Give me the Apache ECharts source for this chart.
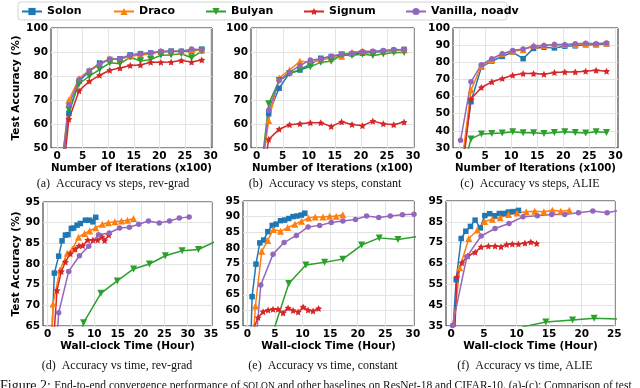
<!DOCTYPE html>
<html>
<head>
<meta charset="utf-8">
<script src="https://cdn.jsdelivr.net/npm/echarts@6/dist/echarts.min.js"></script>
<style>
  html, body { margin: 0; padding: 0; background: #fff; }
  #chart { width: 640px; height: 388px; }
</style>
</head>
<body>
<div id="chart"></div>
<script>
// x positions (x100 iterations) shared by the three step plots
const stepX = [0.3, 2.3, 4.3, 6.3, 8.3, 10.3, 12.3, 14.3, 16.3, 18.3, 20.3, 22.3, 24.3, 26.3, 28.3];

// (a) accuracy vs steps, rev-grad
const aSolon   = [36, 64.5, 77.8, 82, 85.4, 86.9, 87.2, 88.8, 89.3, 89.6, 90, 90.4, 90.3, 90.2, 91.2];
const aDraco   = [30, 70, 79, 82.4, 85, 87.2, 87, 88.3, 88.6, 89.3, 90.2, 90.3, 90.3, 90.9, 90.7];
const aBulyan  = [30, 65.9, 76.8, 79.9, 82.7, 85.5, 85.1, 87.9, 86.2, 86.9, 88.6, 88.8, 89.3, 87.6, 90.4];
const aSignum  = [22, 62, 73.9, 77.8, 80.3, 82.4, 83.3, 84.4, 84.6, 85.7, 85.7, 85.8, 86.5, 85.8, 86.7];
const aVanilla = [32, 68, 78.5, 82, 84.8, 87, 87.2, 88.6, 89.2, 89.7, 90.3, 90.2, 90.3, 91.2, 90.9];

// (b) accuracy vs steps, constant
const bSolon   = [30, 64.3, 74.9, 81.3, 82.5, 85, 87.4, 88.1, 88.9, 89.2, 89.5, 89.9, 90.2, 90.6, 91.1];
const bDraco   = [30, 61.5, 79.2, 82.5, 86.1, 85.7, 86.7, 87.5, 88.2, 89.9, 90.3, 90.2, 90.3, 90.6, 90.9];
const bBulyan  = [30, 68.4, 78.1, 80.9, 82.5, 83.9, 85.7, 86.1, 88.8, 88.5, 89.2, 88.5, 89.2, 89.8, 89.8];
const bSignum  = [25, 53.6, 57.8, 59.7, 60.1, 60.5, 60.5, 59, 60.9, 59.8, 59.3, 61.2, 60.1, 59.7, 60.8];
const bVanilla = [28, 65.7, 78.1, 81.6, 84.3, 86.7, 87.1, 88.2, 89.2, 89.5, 90.2, 90.3, 90.6, 91, 90.9];

// (c) accuracy vs steps, ALIE
const cSolon   = [15, 57, 77.3, 80.7, 83.4, 85.9, 82.1, 88.1, 88.8, 88.4, 89.4, 89.6, 90.2, 90.2, 90.8];
const cDraco   = [15, 63.8, 77.8, 81.5, 85, 86.5, 87.3, 89.8, 89.8, 90.4, 90.4, 90.4, 90.8, 90.8, 91.1];
const cBulyan  = [12, 35.3, 38.2, 38.5, 38.7, 39.5, 38.9, 38.9, 38.5, 39.1, 39.5, 39.1, 38.7, 39.5, 39.1];
const cSignum  = [8, 58.6, 65.3, 68.6, 70.5, 72.4, 73.4, 73.4, 73, 74, 74.4, 74.4, 74.8, 75.3, 74.8];
const cVanilla = [34.5, 68.6, 78.6, 82.1, 85, 86.9, 87.7, 89.2, 89.8, 90.4, 90.2, 90.8, 91.1, 90.8, 91.2];

// (d) accuracy vs wall-clock hours, rev-grad
const dSolonT   = [0.4, 0.95, 1.43, 2.36, 3.08, 3.8, 4.35, 5.07, 5.57, 6.3, 7.0, 8.07, 9.0, 9.7, 10.3];
const dSolon    = [30, 64.5, 77.8, 81.9, 85.6, 87.0, 87.1, 88.6, 88.7, 89.4, 89.8, 90.6, 90.6, 90.2, 91.3];
const dDracoT   = [0.3, 1.14, 2.6, 4.2, 5.3, 6.6, 7.9, 9.0, 10.3, 11.7, 13.0, 14.4, 15.8, 17.1, 18.4];
const dDraco    = [40, 70.3, 78.5, 82.6, 83.6, 86.5, 87.4, 88.0, 88.8, 89.6, 90.0, 90.2, 90.4, 90.6, 91.0];
const dBulyanT  = [4.3, 7.7, 11.4, 14.9, 18.4, 21.8, 25.2, 28.8, 32.3, 35.8, 39.3];
const dBulyan   = [48, 65.8, 72.9, 75.9, 78.8, 80.0, 82.0, 83.2, 83.5, 85.4, 86.5];
const dSignumT  = [0.4, 1.3, 2.0, 2.93, 3.8, 4.86, 5.9, 6.7, 7.5, 8.6, 9.7, 10.7, 11.6, 12.2, 13.1];
const dSignum   = [22, 62, 73.6, 78.2, 80.5, 82.5, 83.6, 84.4, 84.5, 85.8, 85.8, 85.8, 86.6, 85.7, 87.0];
const dVanillaT = [0.2, 2.36, 4.5, 6.8, 8.8, 10.9, 13.2, 15.4, 17.5, 19.5, 21.6, 23.9, 26.1, 28.2, 30.3];
const dVanilla  = [30, 68.2, 78.2, 82.0, 84.3, 87.1, 87.5, 88.7, 88.9, 89.6, 90.4, 89.9, 90.4, 91.1, 91.4];

// (e) accuracy vs wall-clock hours, constant
const eSolonT   = [0.3, 0.85, 1.55, 2.25, 2.95, 3.7, 4.5, 5.2, 6.0, 6.76, 7.5, 8.26, 9.0, 9.78, 10.4];
const eSolon    = [30, 64.4, 74.8, 81.6, 82.5, 85.2, 87.2, 87.6, 88.7, 88.9, 89.4, 90.0, 90.2, 90.5, 91.1];
const eDracoT   = [0.3, 1.45, 2.6, 3.7, 4.7, 6.0, 7.3, 8.6, 9.8, 11.1, 12.3, 13.7, 14.9, 16.1, 17.3];
const eDraco    = [32, 61.4, 78.9, 82.4, 85.9, 85.3, 86.5, 87.6, 88.5, 89.6, 89.9, 89.9, 90.1, 90.1, 90.6];
const eBulyanT  = [0.5, 4.0, 7.5, 10.6, 14.0, 17.3, 20.7, 23.9, 27.3, 30.7];
const eBulyan   = [20, 49.5, 68.6, 74.5, 75.4, 76.4, 80.9, 83.2, 82.7, 83.6];
const eSignumT  = [0.2, 1.0, 1.93, 2.84, 3.75, 4.65, 5.56, 6.47, 7.37, 8.28, 9.2, 10.1, 11.0, 11.9, 12.9];
const eSignum   = [20, 53.6, 57.7, 59.6, 60.1, 60.4, 60.4, 59.2, 60.8, 60.0, 59.5, 61.1, 60.1, 59.8, 60.6];
const eVanillaT = [0.3, 2.42, 4.65, 6.65, 8.88, 11.0, 13.1, 15.2, 17.3, 19.6, 21.6, 23.8, 25.9, 28.1, 30.2];
const eVanilla  = [24, 68.1, 78.0, 81.7, 84.0, 86.7, 87.2, 88.1, 88.6, 89.1, 90.2, 89.7, 90.2, 90.6, 90.8];

// (f) accuracy vs wall-clock hours, ALIE
const fSolonT   = [0.2, 0.76, 1.53, 2.24, 2.95, 3.66, 4.45, 5.15, 5.9, 6.65, 7.37, 8.1, 8.75, 9.5, 10.3];
const fSolon    = [30, 57.2, 77.0, 80.5, 82.8, 85.8, 82.1, 88.0, 88.9, 87.9, 89.0, 89.0, 89.7, 89.9, 90.5];
const fDracoT   = [0.3, 1.3, 2.7, 4.0, 5.1, 6.3, 7.5, 8.8, 10.1, 11.5, 12.8, 14.2, 15.5, 16.8, 18.1];
const fDraco    = [33, 63.0, 77.0, 81.1, 85.2, 86.3, 87.0, 88.5, 89.2, 89.8, 90.1, 89.8, 90.6, 90.1, 90.6];
const fBulyanT  = [7.8, 11.1, 14.5, 18.6, 21.9, 25.4];
const fBulyan   = [30.5, 34.7, 36.9, 37.9, 38.7, 38.4];
const fSignumT  = [0.4, 0.87, 1.63, 2.54, 3.66, 4.58, 5.7, 6.72, 7.63, 8.5, 9.36, 10.3, 11.3, 12.2, 13.1];
const fSignum   = [20, 58.6, 65.4, 68.6, 70.4, 73.0, 73.4, 73.4, 73.1, 74.1, 74.4, 74.4, 74.8, 75.3, 74.6];
const fVanillaT = [0.2, 2.4, 4.58, 6.72, 8.85, 11.0, 13.2, 15.4, 17.4, 19.5, 21.7, 23.9, 26.1, 28.3, 30.5];
const fVanilla  = [35.3, 68.3, 78.2, 81.8, 84.2, 87.4, 87.9, 88.5, 88.5, 89.4, 90.2, 89.4, 90.8, 90.5, 90.3];

// tick labels
const ticks30 = [0, 5, 10, 15, 20, 25, 30];
const ticks35 = [0, 5, 10, 15, 20, 25, 30, 35];
const ticks25 = [0, 5, 10, 15, 20, 25];

const methods = ['Solon', 'Draco', 'Bulyan', 'Signum', 'Vanilla, noadv'];
const captions = [
  '(a)  Accuracy vs steps, rev-grad',
  '(b)  Accuracy vs steps, constant',
  '(c)  Accuracy vs steps, ALIE',
  '(d)  Accuracy vs time, rev-grad',
  '(e)  Accuracy vs time, constant',
  '(f)  Accuracy vs time, ALIE'
];

const starPath = 'path://M0,-10L2.9,-4L9.5,-3.1L4.7,1.6L5.9,8.1L0,5L-5.9,8.1L-4.7,1.6L-9.5,-3.1L-2.9,-4Z';
const looks = {
  'Solon':          { color: '#1f77b4', symbol: 'rect', size: 5.5, rotate: 0 },
  'Draco':          { color: '#ff7f0e', symbol: 'triangle', size: 7, rotate: 0 },
  'Bulyan':         { color: '#2ca02c', symbol: 'triangle', size: 7, rotate: 180 },
  'Signum':         { color: '#d62728', symbol: starPath, size: 7, rotate: 0 },
  'Vanilla, noadv': { color: '#9467bd', symbol: 'circle', size: 5.5, rotate: 0 }
};

const panels = [
  { grid: { left: 51, top: 28, width: 161, height: 120 }, xr: [-1.2, 30.3], xt: ticks30, yr: [50, 100, 10],
    xname: 'Number of Iterations (x100)', yname: 'Test Accuracy (%)', ygap: 24, cap: [113, 184],
    lines: [[stepX, aSolon], [stepX, aDraco], [stepX, aBulyan], [stepX, aSignum], [stepX, aVanilla]] },
  { grid: { left: 251, top: 28, width: 163, height: 120 }, xr: [-1.1, 30.2], xt: ticks30, yr: [50, 100, 10],
    xname: 'Number of Iterations (x100)', cap: [325, 184],
    lines: [[stepX, bSolon], [stepX, bDraco], [stepX, bBulyan], [stepX, bSignum], [stepX, bVanilla]] },
  { grid: { left: 453, top: 28, width: 165, height: 120 }, xr: [-1.15, 30.5], xt: ticks30, yr: [30, 100, 10],
    xname: 'Number of Iterations (x100)', cap: [530, 184],
    lines: [[stepX, cSolon], [stepX, cDraco], [stepX, cBulyan], [stepX, cSignum], [stepX, cVanilla]] },
  { grid: { left: 43, top: 202, width: 169, height: 124 }, xr: [-1, 35.2], xt: ticks35, yr: [65, 95, 5],
    xname: 'Wall-clock Time (Hour)', yname: 'Test Accuracy (%)', ygap: 18, cap: [117, 366],
    lines: [[dSolonT, dSolon], [dDracoT, dDraco], [dBulyanT, dBulyan], [dSignumT, dSignum], [dVanillaT, dVanilla]] },
  { grid: { left: 243, top: 201, width: 171, height: 125 }, xr: [-0.8, 30.2], xt: ticks30, yr: [55, 95, 5],
    xname: 'Wall-clock Time (Hour)', cap: [323, 366],
    lines: [[eSolonT, eSolon], [eDracoT, eDraco], [eBulyanT, eBulyan], [eSignumT, eSignum], [eVanillaT, eVanilla]] },
  { grid: { left: 446, top: 201, width: 169, height: 125 }, xr: [-0.8, 25.1], xt: ticks25, yr: [35, 95, 10],
    xname: 'Wall-clock Time (Hour)', cap: [525, 366],
    lines: [[fSolonT, fSolon], [fDracoT, fDraco], [fBulyanT, fBulyan], [fSignumT, fSignum], [fVanillaT, fVanilla]] }
];

const tickFont = { color: '#000', fontFamily: 'DejaVu Sans', fontWeight: 'bold', fontSize: 10.5 };
const gridLine = { show: true, lineStyle: { color: '#e3e3e3', width: 1 } };

const grids = [], xAxes = [], yAxes = [], series = [], graphics = [];

panels.forEach((p, i) => {
  grids.push(Object.assign({ show: true, borderColor: '#222', borderWidth: 1, backgroundColor: 'transparent' }, p.grid));
  xAxes.push({
    type: 'value', gridIndex: i, min: p.xr[0], max: p.xr[1],
    name: p.xname, nameLocation: 'middle', nameGap: i < 3 ? 12 : 11,
    nameTextStyle: { color: '#000', fontFamily: 'DejaVu Sans', fontWeight: 'bold', fontSize: i < 3 ? 10.2 : 10.5 },
    axisLine: { show: false },
    axisTick: { show: false, customValues: p.xt },
    axisLabel: Object.assign({ customValues: p.xt, margin: 3 }, tickFont),
    splitLine: gridLine
  });
  yAxes.push({
    type: 'value', gridIndex: i, min: p.yr[0], max: p.yr[1], interval: p.yr[2],
    name: p.yname || '', nameLocation: 'middle', nameGap: p.ygap || 20,
    nameTextStyle: { color: '#000', fontFamily: 'DejaVu Sans', fontWeight: 'bold', fontSize: 10.5 },
    axisLine: { show: false },
    axisTick: { show: false },
    axisLabel: Object.assign({ margin: 3 }, tickFont),
    splitLine: gridLine
  });
  p.lines.forEach((ln, k) => {
    const m = methods[k];
    const lk = looks[m];
    series.push({
      name: m, type: 'line', xAxisIndex: i, yAxisIndex: i,
      data: ln[0].map((x, j) => [x, ln[1][j]]),
      symbol: lk.symbol, symbolSize: lk.size, symbolRotate: lk.rotate,
      showAllSymbol: true, clip: true,
      lineStyle: { color: lk.color, width: 1.5 },
      itemStyle: { color: lk.color },
      emphasis: { disabled: true },
      animation: false
    });
  });
  graphics.push({
    type: 'text', x: p.cap[0], y: p.cap[1], silent: true,
    style: { text: captions[i], fill: '#111', font: '12px "Liberation Serif"', align: 'center', verticalAlign: 'middle' }
  });
});

// legend frame
graphics.push({
  type: 'rect', silent: true, z: -1,
  shape: { x: 18, y: 2, width: 489, height: 18, r: 3 },
  style: { fill: '#fff', stroke: '#d4d4d4', lineWidth: 1 }
});

// figure caption, cut at the bottom edge like the scan
graphics.push({
  type: 'text', x: 0, y: 379, silent: true,
  style: {
    text: '{a|Figure 2:} {b|End-to-end convergence performance of }{c|SOLON}{b| and other baselines on ResNet-18 and CIFAR-10. (a)-(c): Comparison of test}',
    rich: {
      a: { fontFamily: 'Liberation Serif', fontSize: 14, fill: '#111' },
      b: { fontFamily: 'Liberation Serif', fontSize: 11.5, fill: '#111' },
      c: { fontFamily: 'Liberation Serif', fontSize: 9.5, fill: '#111' }
    },
    verticalAlign: 'top'
  }
});

const legendLeft = [21, 113, 205, 303, 405];
const legends = methods.map((m, k) => ({
  data: [m], left: legendLeft[k], top: 6, padding: 0,
  itemWidth: 20, itemHeight: 9, selectedMode: false,
  textStyle: { color: '#000', fontFamily: 'DejaVu Sans', fontWeight: 'bold', fontSize: 11 }
}));

const chart = echarts.init(document.getElementById('chart'), null, { renderer: 'canvas' });
chart.setOption({
  backgroundColor: '#fff',
  animation: false,
  legend: legends,
  grid: grids,
  xAxis: xAxes,
  yAxis: yAxes,
  series: series,
  graphic: graphics
});
</script>
</body>
</html>
